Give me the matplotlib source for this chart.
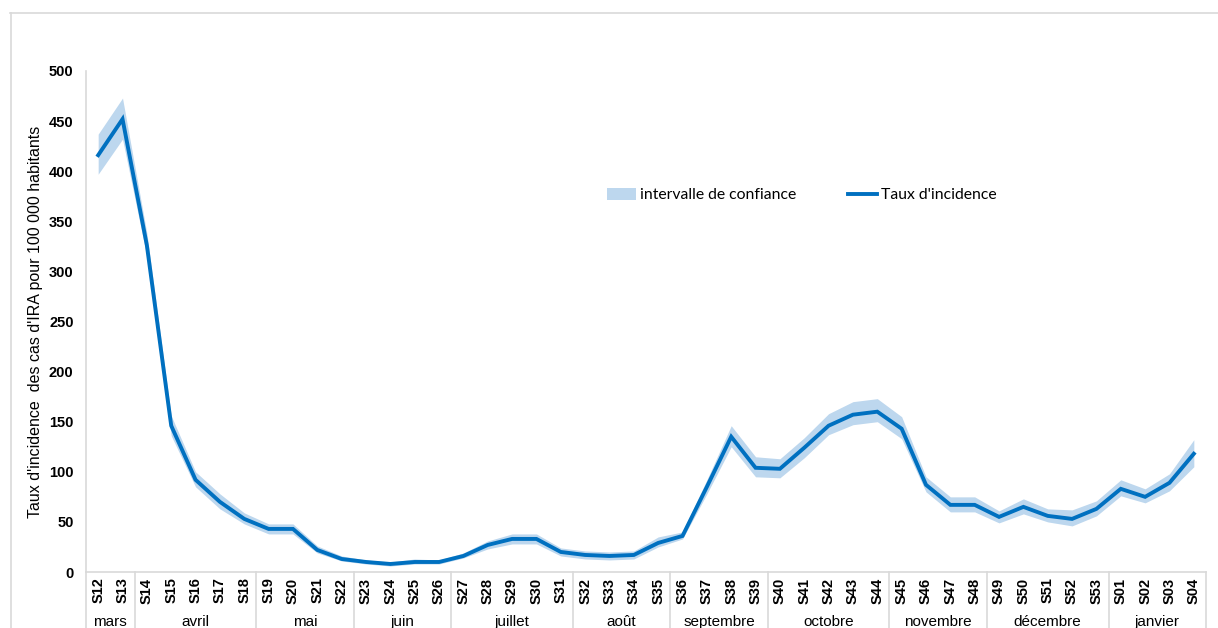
import matplotlib
matplotlib.use("Agg")
import matplotlib.pyplot as plt
from matplotlib.lines import Line2D
from matplotlib.patches import Patch
import matplotlib.transforms as mtransforms

weeks = ["S12", "S13", "S14", "S15", "S16", "S17", "S18", "S19", "S20", "S21", "S22",
         "S23", "S24", "S25", "S26", "S27", "S28", "S29", "S30", "S31", "S32", "S33",
         "S34", "S35", "S36", "S37", "S38", "S39", "S40", "S41", "S42", "S43", "S44",
         "S45", "S46", "S47", "S48", "S49", "S50", "S51", "S52", "S53", "S01", "S02",
         "S03", "S04"]
rate = [416, 452, 326, 146, 92, 70, 53, 43, 43, 22, 13,
        10, 8, 10, 10, 16, 27, 33, 33, 20, 17, 16,
        17, 29, 36, 85, 135, 104, 103, 124, 146, 157, 160,
        143, 87, 67, 67, 55, 65, 56, 53, 63, 83, 75,
        89, 118]
ci_low = [397, 432, 315, 136, 85, 63, 48, 38, 38, 19, 11,
          8, 6, 8, 8, 14, 23, 28, 28, 16, 13, 12,
          13, 25, 33, 78, 125, 95, 94, 114, 137, 147, 150,
          133, 80, 60, 60, 49, 58, 50, 46, 56, 76, 69,
          81, 105]
ci_high = [437, 473, 338, 156, 100, 78, 59, 48, 48, 26, 16,
           12, 10, 13, 12, 19, 31, 38, 38, 24, 21, 20,
           21, 35, 40, 92, 146, 115, 113, 134, 158, 170, 173,
           155, 95, 75, 75, 61, 73, 63, 62, 71, 92, 83,
           98, 132]
months = ["mars", "avril", "mai", "juin", "juillet", "août", "septembre",
          "octobre", "novembre", "décembre", "janvier"]
month_sizes = [2, 5, 4, 4, 5, 4, 4, 5, 4, 5, 4]
yticks = [0, 50, 100, 150, 200, 250, 300, 350, 400, 450, 500]

LINE = "#0070C0"
BAND = "#BDD7EE"
GRID = "#D9D9D9"
TXT = "#000000"

W, H = 1218, 628
fig = plt.figure(figsize=(W / 100, H / 100), dpi=100)
fig.patch.set_facecolor("white")

# outer chart frame
fig.add_artist(Line2D([10 / W, 1.0], [1 - 13 / H, 1 - 13 / H], color=GRID, lw=1.2))
fig.add_artist(Line2D([10.5 / W, 10.5 / W], [0, 1 - 13 / H], color=GRID, lw=1.2))

left, right, top, bottom = 86, 1206, 71, 572
ax = fig.add_axes([left / W, 1 - bottom / H, (right - left) / W, (bottom - top) / H])

x = list(range(len(weeks)))
ax.fill_between(x, ci_low, ci_high, color=BAND, lw=0, zorder=1)
ax.plot(x, rate, color=LINE, lw=2.8, solid_joinstyle="miter", zorder=2)

ax.set_xlim(-0.5, len(weeks) - 0.5)
ax.set_ylim(0, 500)
ax.set_yticks(yticks)
ax.set_yticklabels([str(v) for v in yticks], fontsize=10.5, fontweight="bold",
                   family="Liberation Sans", color=TXT)
ax.set_xticks(x)
ax.set_xticklabels(weeks, rotation=90, fontsize=10.5, fontweight="bold",
                   family="Liberation Sans", color=TXT)
ax.tick_params(axis="both", length=0)
ax.tick_params(axis="y", pad=9)
ax.tick_params(axis="x", pad=4)

for s in ["top", "right"]:
    ax.spines[s].set_visible(False)
for s in ["left", "bottom"]:
    ax.spines[s].set_color(GRID)
    ax.spines[s].set_linewidth(1.2)

ax.set_ylabel("Taux d'incidence  des cas d'IRA pour 100 000 habitants",
              fontsize=11.5, family="Liberation Sans", color=TXT, labelpad=4)

# month groups: dividers and labels
trans = mtransforms.blended_transform_factory(ax.transData, ax.transAxes)
drop = (H - bottom + 5) / (bottom - top)
pos = -0.5
ax.add_line(Line2D([pos, pos], [0, -drop], transform=trans, color=GRID, lw=1.2, clip_on=False))
for name, n in zip(months, month_sizes):
    center = pos + n / 2
    ax.text(center, -(622 - bottom) / (bottom - top), name, transform=trans,
            ha="center", va="center", fontsize=11, family="Liberation Sans",
            color=TXT, clip_on=False)
    pos += n
    ax.add_line(Line2D([pos, pos], [0, -drop], transform=trans, color=GRID, lw=1.2, clip_on=False))

handles = [Patch(facecolor=BAND, edgecolor="none", label="intervalle de confiance"),
           Line2D([0], [0], color=LINE, lw=2.8, label="Taux d'incidence")]
leg = fig.legend(handles=handles, loc="center left", bbox_to_anchor=(593 / W, 1 - 195 / H),
                 ncol=2, frameon=False, prop={"family": "Lato", "size": 11.3},
                 handlelength=1.85, handleheight=0.8, handletextpad=0.25, columnspacing=3.3)

fig.savefig("out.png", dpi=100, facecolor="white")
